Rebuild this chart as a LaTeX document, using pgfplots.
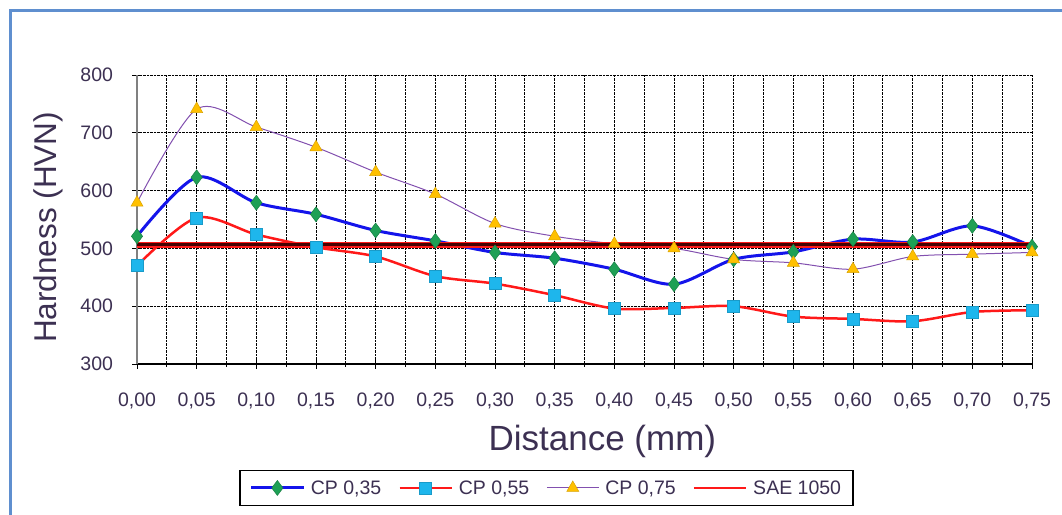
\documentclass[border=0pt]{standalone}
\usepackage{pgfplots}
\pgfplotsset{compat=1.18}
\usepackage{fontspec}
\setmainfont{Liberation Sans}
\definecolor{txt}{RGB}{60,48,82}
\definecolor{frameblue}{RGB}{95,143,207}
\definecolor{cpblue}{RGB}{20,20,235}
\definecolor{cpred}{RGB}{255,25,25}
\definecolor{cppurple}{RGB}{130,80,175}
\definecolor{mgreen}{RGB}{30,160,85}
\definecolor{mcyan}{RGB}{30,182,236}
\definecolor{mgold}{RGB}{255,192,0}
\definecolor{saecore}{RGB}{70,0,0}
\begin{document}
\begin{tikzpicture}
\path[use as bounding box] (0,0) rectangle (1062bp,515bp);
\draw[frameblue, line width=3bp] (10bp,0) -- (10bp,504bp) -- (1062bp,504bp);
\begin{axis}[
  at={(137bp,151bp)}, anchor=south west,
  scale only axis, width=895bp, height=289bp,
  xmin=0, xmax=0.75, ymin=300, ymax=800,
  xtick={0,0.05,...,0.76}, ytick={300,400,...,800},
  minor x tick num=1,
  axis x line*=bottom, axis y line*=left,
  x axis line style={black, line width=1.2bp},
  y axis line style={gray, line width=1.5bp},
  grid=both,
  major grid style={black, densely dotted, line width=0.8bp},
  minor grid style={black, densely dotted, line width=0.8bp},
  tick align=center, major tick length=9bp, minor tick length=5bp,
  tick style={black, line width=0.8bp},
  /pgf/number format/assume math mode=true,
  ticklabel style={font=\fontsize{19.5bp}{23bp}\selectfont, text=txt},
  xticklabel={\pgfmathprintnumber[fixed, fixed zerofill, precision=2, use comma]{\tick}},
  yticklabel={\pgfmathprintnumber[fixed, precision=0, 1000 sep={}]{\tick}},
  xticklabel style={yshift=-21bp},
  yticklabel style={xshift=-16bp},
  xlabel={Distance (mm)},
  ylabel={Hardness (HVN)},
  x label style={at={(axis description cs:0.52,-0.301)}, anchor=base, font=\fontsize{35bp}{40bp}\selectfont, text=txt},
  y label style={at={(axis description cs:-0.0894,0.4727)}, anchor=base, rotate=0, font=\fontsize{31.5bp}{36bp}\selectfont, text=txt},
  legend columns=4,
  legend style={at={(axis description cs:0.4575,-0.429)}, anchor=center,
    draw=black, line width=1.5bp, fill=white,
    font=\fontsize{19.5bp}{23bp}\selectfont, text=txt,
    inner xsep=10bp, inner ysep=8bp,
    nodes={inner sep=2bp},
    /tikz/every odd column/.append style={column sep=4bp},
    /tikz/every even column/.append style={column sep=15bp}},
  legend image code/.code={\draw[mark repeat=2,mark phase=2] plot coordinates {(0bp,0bp) (26bp,0bp) (52bp,0bp)};},
]
\addplot[cpblue, line width=3bp, smooth, mark=diamond*, mark size=7.5bp,
  mark options={solid, fill=mgreen, draw=mgreen!80!black, line width=0.5bp}]
  coordinates {(0,521)(0.05,623)(0.10,579)(0.15,559)(0.20,531)(0.25,513)(0.30,493)(0.35,483)(0.40,464)(0.45,438)(0.50,481)(0.55,494)(0.60,516)(0.65,511)(0.70,539)(0.75,503)};
\addlegendentry{CP 0,35}
\addplot[cpred, line width=2.5bp, smooth, mark=square*, mark size=6bp,
  mark options={solid, fill=mcyan, draw=mcyan!85!black, line width=0.5bp}]
  coordinates {(0,470)(0.05,553)(0.10,524)(0.15,502)(0.20,486)(0.25,452)(0.30,439)(0.35,419)(0.40,396)(0.45,397)(0.50,400)(0.55,382)(0.60,378)(0.65,374)(0.70,390)(0.75,393)};
\addlegendentry{CP 0,55}
\addplot[cppurple, line width=1bp, smooth, mark=triangle*, mark size=7bp,
  mark options={solid, fill=mgold, draw=mgold!85!black, line width=0.5bp}]
  coordinates {(0,579)(0.05,741)(0.10,710)(0.15,675)(0.20,632)(0.25,594)(0.30,543)(0.35,521)(0.40,508)(0.45,500)(0.50,481)(0.55,475)(0.60,464)(0.65,486)(0.70,490)(0.75,493)};
\addlegendentry{CP 0,75}
\addplot[cpred, line width=6bp, forget plot] coordinates {(0,506)(0.75,506)};
\addplot[saecore, line width=3bp, forget plot] coordinates {(0,506)(0.75,506)};
\addlegendimage{cpred, line width=2.5bp}
\addlegendentry{SAE 1050}
\end{axis}
\end{tikzpicture}
\end{document}
